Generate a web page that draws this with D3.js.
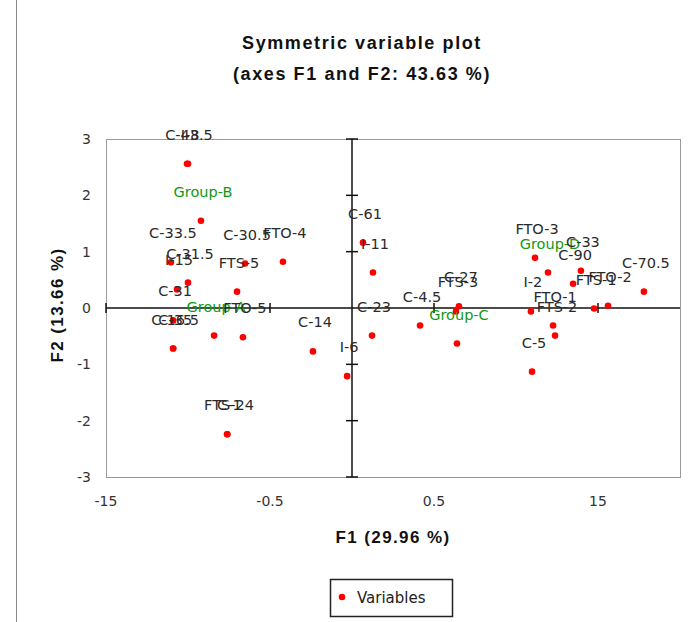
<!DOCTYPE html>
<html>
<head>
<meta charset="utf-8">
<script src="https://cdn.jsdelivr.net/npm/d3@7"></script>
<style>
  body { margin: 0; background: #fff; }
  svg text { font-family: "DejaVu Sans", sans-serif; }
</style>
</head>
<body>
<div id="chart"></div>
<script>
// variables (label, F1, F2)
const names = ["C-43.5", "I-8", "Group-B", "C-33.5", "C-30.5", "FTO-4", "C-31.5", "I-15", "FTS-5",
  "C-31", "Group-A", "FTO-5", "C-16.5", "C-35", "C-14", "I-6", "FTS-24", "C-1",
  "C-61", "I-11", "C-23", "C-4.5", "C-27", "FTS-3", "Group-C",
  "FTO-3", "Group-D", "C-33", "C-90", "C-70.5", "FTO-2", "FTS-1", "I-2", "FTO-1", "FTS-2", "C-5"];
const f1 = [-1.006, -1.0, -0.921, -1.104, -0.652, -0.421, -1.0, -1.067, -0.701,
  -1.091, -0.841, -0.665, -1.091, -1.09, -0.238, -0.03, -0.762, -0.76,
  0.067, 0.128, 0.122, 0.415, 0.652, 0.634, 0.64,
  1.116, 1.195, 1.396, 1.348, 1.78, 1.561, 1.476, 1.091, 1.226, 1.238, 1.098];
const f2 = [2.56, 2.56, 1.55, 0.81, 0.79, 0.82, 0.45, 0.33, 0.29,
  -0.22, -0.49, -0.52, -0.72, -0.72, -0.77, -1.21, -2.24, -2.24,
  1.16, 0.63, -0.49, -0.31, 0.03, -0.06, -0.63,
  0.89, 0.63, 0.66, 0.43, 0.29, 0.04, -0.01, -0.06, -0.31, -0.49, -1.13];

const xTicks = [-1.5, -0.5, 0.5, 1.5];
const xTickLabels = ["-15", "-0.5", "0.5", "15"];
const yTicks = [-3, -2, -1, 0, 1, 2, 3];

const width = 696, height = 622;
const margin = { top: 139, left: 106, right: 16, bottom: 145 };
const plotW = width - margin.left - margin.right, plotH = height - margin.top - margin.bottom;

const svg = d3.select('#chart').append('svg').attr('width', width).attr('height', height);

// outer frame line
svg.append('line').attr('x1', 16.5).attr('x2', 16.5).attr('y1', 0).attr('y2', height)
  .attr('stroke', '#888');

const x = d3.scaleLinear().domain([-1.5, 2]).range([margin.left, margin.left + plotW]);
const y = d3.scaleLinear().domain([-3, 3]).range([margin.top + plotH, margin.top]);

// title
const title = svg.append('text').attr('text-anchor', 'middle')
  .style('font-family', '"Liberation Sans", Arial, sans-serif')
  .style('font-weight', 'bold').style('font-size', '18px').style('letter-spacing', '1.6px')
  .attr('fill', '#111');
title.append('tspan').attr('x', 362).attr('y', 49).text('Symmetric variable plot');
title.append('tspan').attr('x', 362).attr('y', 80).text('(axes F1 and F2: 43.63 %)');

// plot border
svg.append('rect')
  .attr('x', margin.left + 0.5).attr('y', margin.top + 0.5)
  .attr('width', plotW).attr('height', plotH)
  .attr('fill', 'none').attr('stroke', '#999');

// y tick labels
svg.append('g').selectAll('text').data(yTicks).join('text')
  .attr('x', margin.left - 15).attr('y', d => y(d)).attr('dy', '0.35em')
  .attr('text-anchor', 'end').style('font-size', '14px').attr('fill', '#333')
  .text(d => d);

// x tick labels
svg.append('g').selectAll('text').data(xTicks).join('text')
  .attr('x', d => x(d)).attr('y', margin.top + plotH + 24).attr('dy', '0.35em')
  .attr('text-anchor', 'middle').style('font-size', '14px').attr('fill', '#333')
  .text((d, i) => xTickLabels[i]);

// axes through origin
const axes = svg.append('g').attr('stroke', '#111').attr('stroke-width', 1.5);
axes.append('line').attr('x1', x(-1.5)).attr('x2', x(2)).attr('y1', y(0)).attr('y2', y(0));
axes.append('line').attr('x1', x(0)).attr('x2', x(0)).attr('y1', y(3)).attr('y2', y(-3));
axes.selectAll('line.ytick').data(yTicks.filter(d => d !== 0)).join('line').classed('ytick', true)
  .attr('x1', x(0) - 6).attr('x2', x(0) + 6).attr('y1', d => y(d)).attr('y2', d => y(d));
axes.selectAll('line.xtick').data(xTicks).join('line').classed('xtick', true)
  .attr('x1', d => x(d)).attr('x2', d => x(d)).attr('y1', y(0) - 5).attr('y2', y(0) + 5);

// axis titles
svg.append('text').attr('x', 393).attr('y', 543).attr('text-anchor', 'middle')
  .style('font-family', '"Liberation Sans", Arial, sans-serif')
  .style('font-weight', 'bold').style('font-size', '17px').style('letter-spacing', '1.4px')
  .attr('fill', '#111').text('F1 (29.96 %)');
svg.append('text').attr('transform', 'translate(63,305) rotate(-90)').attr('text-anchor', 'middle')
  .style('font-family', '"Liberation Sans", Arial, sans-serif')
  .style('font-weight', 'bold').style('font-size', '17px').style('letter-spacing', '1.4px')
  .attr('fill', '#111').text('F2 (13.66 %)');

// points
const pts = names.map((n, i) => ({ name: n, f1: f1[i], f2: f2[i] }));
const isGroup = d => d.name.startsWith('Group');

svg.append('g').selectAll('circle').data(pts).join('circle')
  .attr('cx', d => x(d.f1)).attr('cy', d => y(d.f2)).attr('r', 3.3)
  .attr('fill', '#ff0000');

svg.append('g').selectAll('text').data(pts).join('text')
  .attr('x', d => x(d.f1) + 2).attr('y', d => y(d.f2) - 29).attr('dy', '0.35em')
  .attr('text-anchor', 'middle').style('font-size', '14.5px')
  .attr('fill', d => isGroup(d) ? '#119911' : '#2a2a2a')
  .text(d => d.name);

// legend
const lg = svg.append('g');
lg.append('rect').attr('x', 330.5).attr('y', 579.5).attr('width', 122).attr('height', 37)
  .attr('fill', '#fff').attr('stroke', '#222').attr('stroke-width', 1.5);
lg.append('circle').attr('cx', 342).attr('cy', 597).attr('r', 3.3).attr('fill', '#ff0000');
lg.append('text').attr('x', 357).attr('y', 598).attr('dy', '0.35em')
  .style('font-size', '15px').attr('fill', '#222').text('Variables');
</script>
</body>
</html>
